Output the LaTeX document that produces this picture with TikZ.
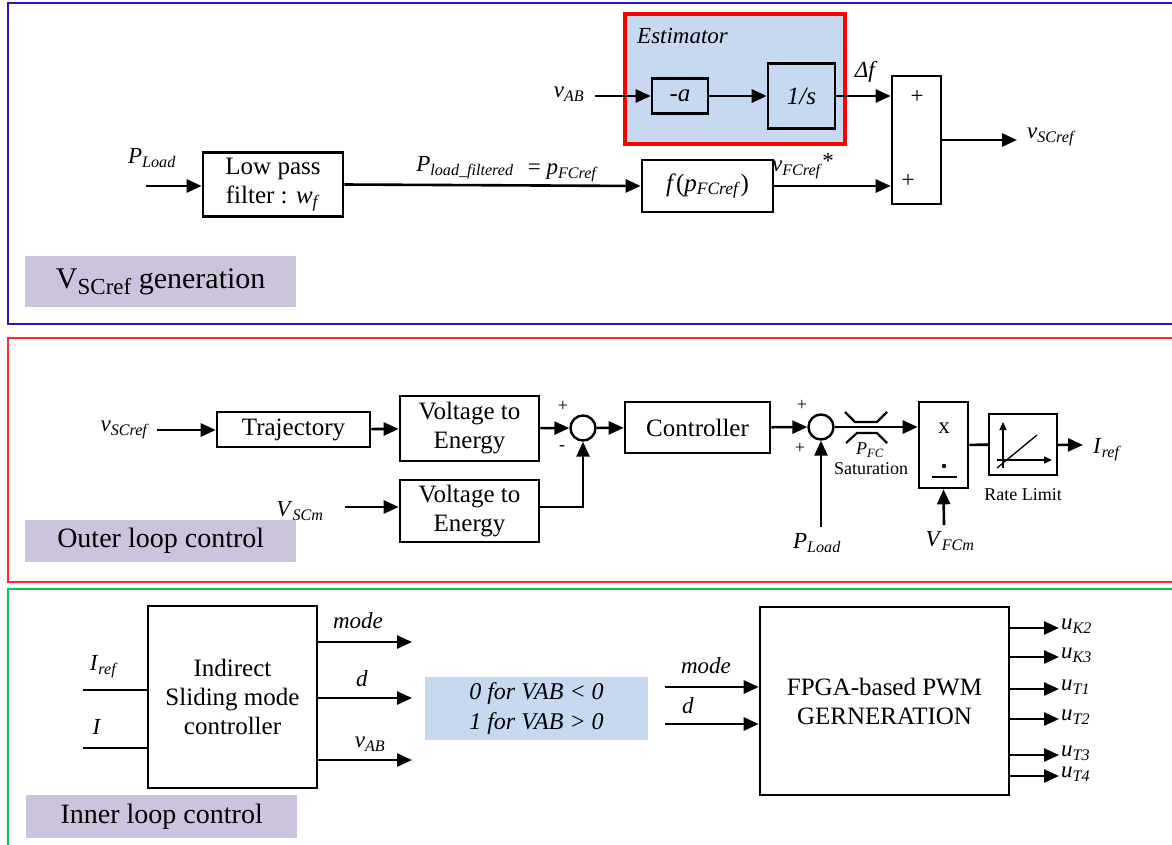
\documentclass[tikz,border=0pt]{standalone}
\usepackage{fontspec}
\setmainfont{Liberation Serif}
\usepackage{tikz}
\usetikzlibrary{arrows.meta, positioning, calc}
\definecolor{panelblue}{RGB}{40, 20, 200}
\definecolor{panelred}{RGB}{255, 40, 40}
\definecolor{panelgreen}{RGB}{20, 190, 90}
\definecolor{tagpurple}{RGB}{204, 196, 220}
\definecolor{estblue}{RGB}{198, 217, 240}
\newcommand{\sig}[2]{\textit{#1}\textsubscript{\textit{#2}}}

\begin{document}
\begin{tikzpicture}[x=1pt, y=-1pt,
    block/.style={rectangle, draw, line width=2.6pt, inner sep=0pt, align=center, font=\fontsize{25}{29}\selectfont},
    sumcirc/.style={circle, draw, line width=2.4pt, minimum size=25pt, inner sep=0pt},
    lbl/.style={inner sep=1pt, font=\fontsize{23}{27}\selectfont},
    small/.style={inner sep=1pt, font=\fontsize{18}{21}\selectfont},
    tag/.style={rectangle, fill=tagpurple, anchor=north west, minimum width=271pt, font=\fontsize{28}{32}\selectfont},
    flow/.style={-{Triangle[length=15pt, width=13pt]}, line width=2.6pt},
    wire/.style={line width=2.6pt},
    panel/.style={line width=1.8pt}
]
    \useasboundingbox (0,0) rectangle (1172,844);

    % panel frames
    \draw[panel, panelblue] (1174,3) -- (8,3) -- (8,324) -- (1174,324);
    \draw[panel, panelred] (1174,338) -- (8,338) -- (8,582) -- (1174,582);
    \draw[panel, panelgreen] (1174,589) -- (8,589) -- (8,846);

    \node[tag, minimum height=51pt, font=\fontsize{30}{32}\selectfont] (tag1) at (25,256) {V\raisebox{-0.2em}{\fontsize{23}{25}\selectfont SCref} generation};
    \node[tag, minimum height=42pt] (tag2) at (25,520) {Outer loop control};
    \node[tag, minimum height=43pt] (tag3) at (26,795) {Inner loop control};

    % VSCref generation
    \node[rectangle, draw=red, line width=4pt, fill=estblue, minimum width=220pt, minimum height=130pt] (est) at (735,79) {};
    \node[lbl, anchor=west] (esttitle) at (636,36) {\textit{Estimator}};
    \node[block, minimum width=56pt, minimum height=35pt] (gain) at (680,96) {\textit{-a}};
    \node[block, minimum width=67pt, minimum height=65pt] (integ) at (801.5,96) {\textit{1/s}};
    \node[block, minimum width=49pt, minimum height=128pt] (sumbox) at (916.5,140) {};
    \node[lbl] (plus1) at (917,97) {+};
    \node[lbl] (plus2) at (908,181) {+};
    \node[block, minimum width=131pt, minimum height=52pt] (fbox) at (707.5,186) {\textit{f}(\sig{p}{FCref})};
    \node[block, minimum width=140pt, minimum height=64pt] (lpf) at (273,184.5) {Low pass\\filter : \sig{w}{f}};

    \node[lbl] (vab) at (569,94) {\sig{v}{AB}};
    \coordinate (vabin) at (595,96);
    \node[lbl] (pload) at (152,158) {\sig{P}{Load}};
    \coordinate (ploadin) at (146,186);
    \node[lbl] (pfilt) at (465,168) {\sig{P}{load\_filtered}};
    \node[lbl] (pfc) at (563,173) {= \sig{p}{FCref}};
    \node[lbl] (vfc) at (803,166) {\sig{v}{FCref}\raisebox{3pt}{*}};
    \coordinate (vscout) at (1017,140);
    \node[lbl, anchor=west] (vsc) at (1026,137) {\sig{v}{SCref}};

    \draw[flow] (vabin) -- (gain);
    \draw[flow] (gain) -- (integ);
    \draw[flow] (integ.east) -- node[lbl, above=11pt, pos=0.55]{\textit{Δf}} (integ.east -| sumbox.west);
    \draw[flow] (fbox.east) -- (fbox.east -| sumbox.west);
    \draw[flow] (sumbox.east) -- (vscout);
    \draw[flow] (ploadin) -- (ploadin -| lpf.west);
    \draw[flow] (lpf.east) -- (fbox.west);

    % Outer loop control
    \node[lbl] (vscref) at (125,430) {\sig{v}{SCref}};
    \coordinate (vscrefin) at (157,430);
    \node[block, minimum width=153pt, minimum height=35pt] (traj) at (293.5,429.5) {Trajectory};
    \node[block, minimum width=139pt, minimum height=65pt] (vte1) at (469.5,428.5) {Voltage to\\Energy};
    \node[block, minimum width=139pt, minimum height=62pt] (vte2) at (469.5,511) {Voltage to\\Energy};
    \node[lbl] (vscm) at (300,511) {\sig{V}{SCm}};
    \coordinate (vscmin) at (345,507);
    \node[sumcirc] (sum1) at (583,428) {};
    \node[block, minimum width=145pt, minimum height=51pt] (ctrl) at (697.5,427.5) {Controller};
    \node[sumcirc] (sum2) at (821,427) {};
    \node[block, minimum width=49pt, minimum height=86pt] (xbox) at (943.5,445) {};
    \node[rectangle, draw, line width=1.6pt, minimum width=68pt, minimum height=61pt] (rate) at (1023,444.5) {};
    \coordinate (irefout) at (1083,445);
    \node[lbl, anchor=west] (iref) at (1092,450) {\sig{I}{ref}};
    \coordinate (ploadup) at (821,527);
    \node[lbl] (pload2) at (817,543) {\sig{P}{Load}};
    \coordinate (vfcup) at (944,525);
    \node[lbl] (vfcm) at (950,541) {\sig{V}{FCm}};

    \node[small] (s1p) at (563,406) {+};
    \node[small] (s1m) at (562,448) {-};
    \node[small] (s2p) at (802,405) {+};
    \node[small] (s2q) at (800,448) {+};
    \node[small] (pfcsat) at (870,450) {\sig{P}{FC}};
    \node[small] (satlbl) at (871,469) {Saturation};
    \node[small] (ratelbl) at (1023,495) {Rate Limit};
    \node[lbl] (xsign) at (944,428) {x};

    \draw[flow] (vscrefin) -- (vscrefin -| traj.west);
    \draw[flow] (traj) -- (vte1);
    \draw[flow] (vte1) -- (sum1);
    \draw[flow] (vscmin) -- (vscmin -| vte2.west);
    \draw[flow] (vte2.east |- vscmin) -| (sum1.south);
    \draw[flow] (sum1) -- (ctrl);
    \draw[flow] (ctrl) -- (sum2);
    \draw[flow] (sum2.east) -- (sum2.east -| xbox.west);
    \draw[flow] (ploadup) -- (sum2.south);
    \draw[flow] (vfcup) -- (xbox.south);
    \draw[wire] (xbox) -- (rate);
    \draw[flow] (rate) -- (irefout);

    % saturation and divider marks
    \draw[line width=2.2pt] (845,412) -- (855,422) -- (877,422) -- (887,412);
    \draw[line width=2.2pt] (846,443) -- (857,433) -- (877,433) -- (887,443);
    \fill (944,466) circle (2.2pt);
    \draw[line width=2.2pt] (932,477) -- (957,477);
    \draw[-{Triangle[length=8pt, width=7pt]}, line width=1.3pt] (1003,468) -- (1003,422);
    \draw[-{Triangle[length=8pt, width=7pt]}, line width=1.3pt] (997,460) -- (1052,460);
    \draw[line width=1.3pt] (997,468) -- (1037,435);

    % Inner loop control
    \node[block, minimum width=169pt, minimum height=182pt] (ismc) at (232.5,697) {Indirect\\Sliding mode\\controller};
    \coordinate (irefin) at (83,690);
    \coordinate (iin) at (83,748);
    \node[lbl] (ireflbl) at (104,667) {\sig{I}{ref}};
    \node[lbl] (ilbl) at (97,727) {\textit{I}};
    \draw[wire] (irefin) -- (irefin -| ismc.west);
    \draw[wire] (iin) -- (iin -| ismc.west);

    \coordinate (modeout) at (412,642);
    \coordinate (dout) at (412,698);
    \coordinate (vabout) at (412,760);
    \node[lbl] (modelbl) at (358,621) {\textit{mode}};
    \node[lbl] (dlbl) at (362,679) {\textit{d}};
    \node[lbl] (vablbl) at (370,744) {\sig{v}{AB}};
    \draw[flow] (modeout -| ismc.east) -- (modeout);
    \draw[flow] (dout -| ismc.east) -- (dout);
    \draw[flow] (vabout -| ismc.east) -- (vabout);

    \node[rectangle, fill=estblue, minimum width=223pt, minimum height=63pt, align=center, font=\fontsize{24}{30}\selectfont\itshape] (cond) at (536.5,708.5) {0 for VAB < 0\\1 for VAB > 0};

    \node[block, minimum width=249pt, minimum height=188pt] (fpga) at (884.5,701) {FPGA-based PWM\\GERNERATION};
    \coordinate (modein) at (665,687);
    \coordinate (din) at (665,724);
    \node[lbl] (modelbl2) at (706,666) {\textit{mode}};
    \node[lbl] (dlbl2) at (688,706) {\textit{d}};
    \draw[flow] (modein) -- (modein -| fpga.west);
    \draw[flow] (din) -- (din -| fpga.west);

    \foreach \yy/\sw in {628/K2, 657/K3, 689/T1, 719/T2, 755/T3, 776/T4} {
        \coordinate (u\sw) at (1059,\yy);
        \draw[flow] (u\sw -| fpga.east) -- (u\sw);
        \node[lbl, anchor=west] at ($(u\sw)+(1,-2)$) {\sig{u}{\sw}};
    }

\end{tikzpicture}
\end{document}
